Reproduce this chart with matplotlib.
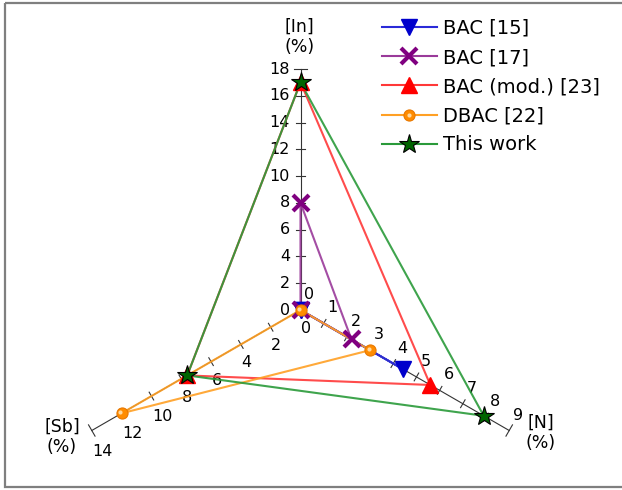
import numpy as np
import matplotlib
matplotlib.use('Agg')
import matplotlib.pyplot as plt
from matplotlib.patches import Rectangle
from matplotlib.legend_handler import HandlerTuple

plt.rcParams['font.family'] = ['DejaVu Sans']

# composition axes: In (up), N (lower right), Sb (lower left)
axis_names = ["In", "N", "Sb"]
axis_max = [18, 9, 14]
axis_step = [2, 1, 2]

series_labels = ["BAC [15]", "BAC [17]", "BAC (mod.) [23]", "DBAC [22]", "This work"]
in_vals = [0, 8, 17, 0, 17]
n_vals = [4.4, 2.2, 5.6, 3.0, 7.9]
sb_vals = [0, 0, 7.6, 12, 7.6]

# drawing is done in pixel-like units, y pointing down
W, H = 622, 490
ORIGIN = np.array([300.5, 310.0])
RADIUS = 241.0
DIRS = {
    "In": np.array([0.0, -1.0]),
    "N": np.array([np.cos(np.radians(30)), np.sin(np.radians(30))]),
    "Sb": np.array([-np.cos(np.radians(30)), np.sin(np.radians(30))]),
}
AX_MAX = dict(zip(axis_names, axis_max))
AX_STEP = dict(zip(axis_names, axis_step))


def to_xy(name, value):
    return ORIGIN + DIRS[name] * RADIUS * value / AX_MAX[name]


fig = plt.figure(figsize=(W / 100, H / 100), dpi=100)
ax = fig.add_axes([0, 0, 1, 1])
ax.set_xlim(0, W)
ax.set_ylim(H, 0)
ax.axis("off")

# outer frame (open on the right)
ax.add_patch(Rectangle((5, 3), 640, 483.5, fill=False, edgecolor="#7f7f7f",
                       linewidth=1.6, zorder=1))

axis_col = "#333333"
for name in axis_names:
    end = to_xy(name, AX_MAX[name])
    ax.plot([ORIGIN[0], end[0]], [ORIGIN[1], end[1]], color=axis_col, lw=0.8, zorder=2)
    d = DIRS[name]
    perp = np.array([-d[1], d[0]])
    ticks = np.arange(0, AX_MAX[name] + 0.01, AX_STEP[name])
    for t in ticks:
        p = to_xy(name, t)
        if t == 0:
            half = 0
        elif t == AX_MAX[name]:
            half = 6.5
        else:
            half = 4.5
        if half:
            ax.plot([p[0] - perp[0] * half, p[0] + perp[0] * half],
                    [p[1] - perp[1] * half, p[1] + perp[1] * half],
                    color=axis_col, lw=0.8, zorder=2)
        lab = f"{int(t)}"
        if name == "In":
            ax.text(p[0] - 10.5, p[1], lab, ha="right", va="center", fontsize=11.5)
        elif name == "N":
            ax.text(p[0] + 9, p[1] - 15.5, lab, ha="center", va="center", fontsize=11.5)
        else:
            dy = 20.5 if t >= 10 else 18.5
            ax.text(p[0] + 0.5, p[1] + dy, lab, ha="left", va="center", fontsize=11.5)

ax.text(299.5, 37, "[In]\n(%)", ha="center", va="center", fontsize=12.5, linespacing=1.2)
ax.text(541, 433, "[N]\n(%)", ha="center", va="center", fontsize=12.5, linespacing=1.2)
ax.text(62, 437, "[Sb]\n(%)", ha="center", va="center", fontsize=12.5, linespacing=1.2)

line_cols = ["#2a2ad8", "#9a3a9a", "#ff3838", "#ffa024", "#2a9a3a"]
styles = [
    dict(marker="v", ms=12, mfc="#0000cc", mec="#0000cc", mew=1),
    dict(marker="x", ms=11, mfc="#800080", mec="#800080", mew=3),
    dict(marker="^", ms=12, mfc="#ff0000", mec="#ff0000", mew=1),
    dict(marker="o", ms=8, mfc="#ff8c00", mec="#e87800", mew=0.8),
    dict(marker="*", ms=15, mfc="#006400", mec="#000000", mew=0.8),
]

handles = []
for i, lab in enumerate(series_labels):
    pts = [to_xy("In", in_vals[i]), to_xy("N", n_vals[i]), to_xy("Sb", sb_vals[i])]
    xs = [p[0] for p in pts] + [pts[0][0]]
    ys = [p[1] for p in pts] + [pts[0][1]]
    ax.plot(xs, ys, color=line_cols[i], lw=1.5, alpha=0.9, zorder=3 + i)
    h, = ax.plot(xs[:3], ys[:3], linestyle="none", zorder=10 + i, **styles[i])
    lh = ax.plot([], [], color=line_cols[i], lw=1.5)[0]
    if styles[i]["marker"] == "o":
        # small highlight for the ball markers
        hl, = ax.plot([x - 1.2 for x in xs[:3]], [y - 1.2 for y in ys[:3]],
                      linestyle="none", marker="o", ms=3, mfc="#ffd9a0",
                      mec="none", zorder=10 + i)
        handles.append((lh, h, hl))
    else:
        handles.append((lh, h))

leg = ax.legend(handles, series_labels, loc="upper left",
                bbox_to_anchor=(381.7 / W, 1 - 19.0 / H), bbox_transform=fig.transFigure,
                frameon=False, fontsize=14, handlelength=2.85, handletextpad=0.3,
                labelspacing=0.52, borderpad=0, borderaxespad=0,
                handler_map={tuple: HandlerTuple(ndivide=1)})

fig.savefig("out.png", dpi=100)
